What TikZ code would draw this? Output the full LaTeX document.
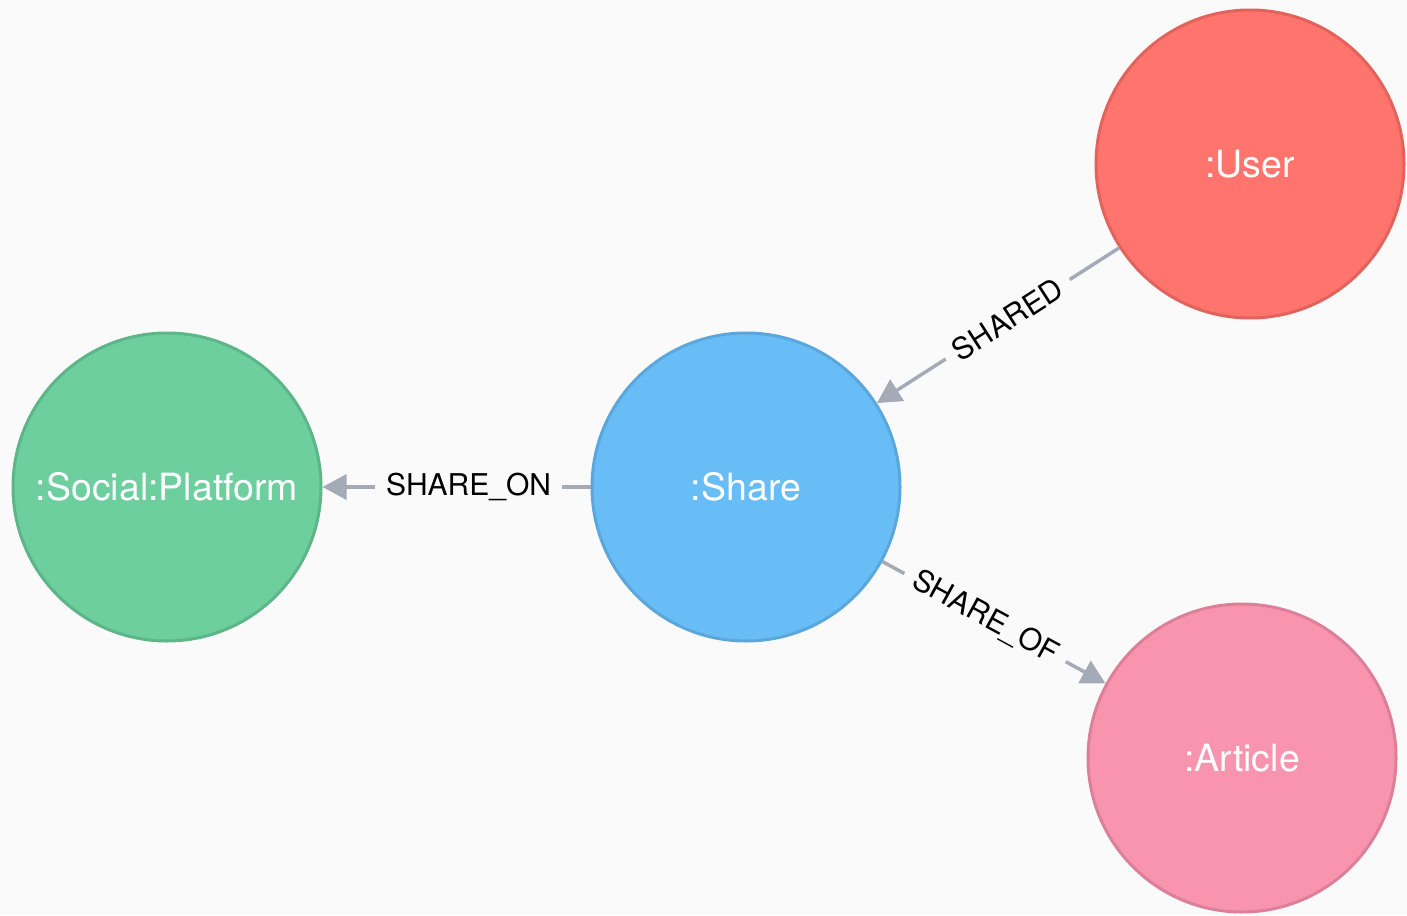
\documentclass[tikz,border=0pt]{standalone}
\usepackage{fontspec}
\setmainfont{TeX Gyre Heros}
\usetikzlibrary{arrows.meta}

\definecolor{bgcol}{HTML}{FAFAFA}
\definecolor{userfill}{HTML}{FF756E}
\definecolor{userline}{HTML}{E3625B}
\definecolor{sharefill}{HTML}{68BDF6}
\definecolor{shareline}{HTML}{5BA7DC}
\definecolor{platfill}{HTML}{6DCE9E}
\definecolor{platline}{HTML}{5DB588}
\definecolor{artfill}{HTML}{F994AF}
\definecolor{artline}{HTML}{DC7F98}
\definecolor{relcol}{HTML}{A5ABB6}

\tikzset{
  entity/.style={circle, inner sep=0pt, minimum size=308pt, line width=3pt,
    text=white, font=\fontsize{37.5}{44}\selectfont},
  rel/.style={line width=3.5pt, draw=relcol,
    -{Triangle[length=24pt, width=25pt, fill=relcol]}},
  rellabel/.style={sloped, fill=bgcol, inner xsep=11pt, inner ysep=3pt,
    text=black, font=\fontsize{30}{36}\selectfont},
}

\begin{document}
\begin{tikzpicture}[x=1pt, y=-1pt]
  \fill[bgcol] (0,0) rectangle (1407,915);
  \useasboundingbox (0,0) rectangle (1407,915);

  \node[entity, fill=userfill, draw=userline] (user) at (1250,164) {:User};
  \node[entity, fill=sharefill, draw=shareline] (share) at (746,487) {:Share};
  \node[entity, fill=platfill, draw=platline] (platform) at (167,487) {:Social:Platform};
  \node[entity, fill=artfill, draw=artline] (article) at (1242,758) {:Article};

  \draw[rel] (user) -- node[rellabel, pos=0.46] {SHARED} (share);
  \draw[rel] (share) -- node[rellabel, pos=0.455] {SHARE\_ON} (platform);
  \draw[rel] (share) -- node[rellabel, pos=0.46] {SHARE\_OF} (article);
\end{tikzpicture}
\end{document}
